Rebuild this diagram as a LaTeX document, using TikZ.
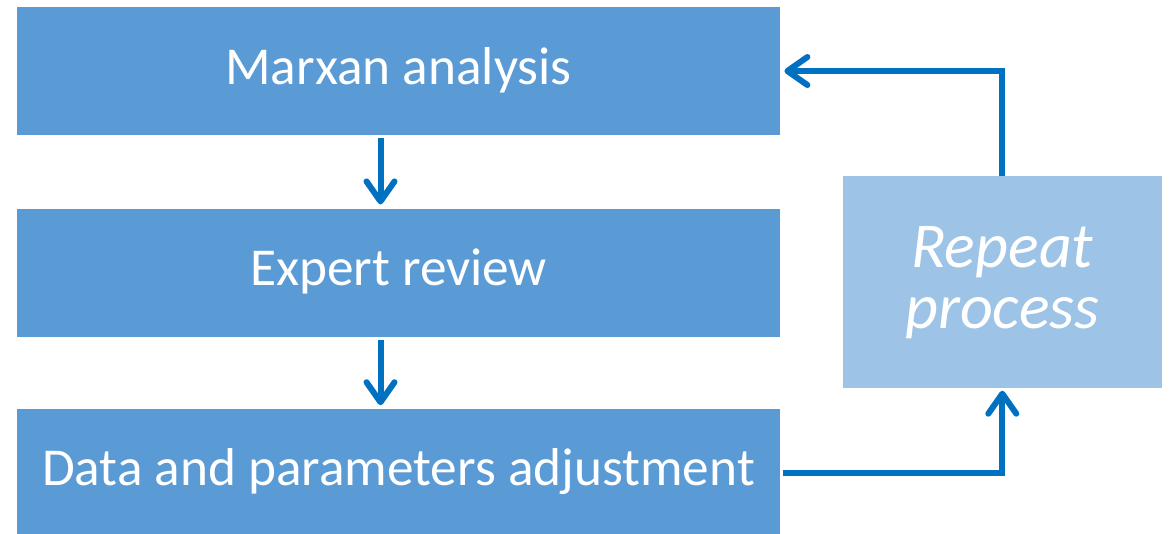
\documentclass[tikz,border=0pt]{standalone}
\usepackage{fontspec}
\setmainfont{Carlito}
\usetikzlibrary{positioning, arrows.meta}

\definecolor{stepblue}{HTML}{5B9BD5}
\definecolor{repeatblue}{HTML}{9DC3E6}
\definecolor{arrowblue}{HTML}{0070C0}

\begin{document}
\begin{tikzpicture}[node distance={72pt}, thick]
                \tikzstyle{stepbox} = [rectangle, fill=stepblue, text=white, minimum width=763pt, minimum height=128pt, inner sep=0pt, font=\fontsize{53.3}{62}\selectfont, text height=36pt, text depth=10pt]
                \tikzstyle{loopbox} = [rectangle, fill=repeatblue, text=white, minimum width=319pt, minimum height=212pt, inner sep=0pt, font=\fontsize{64}{61}\selectfont\itshape, align=center]
                \tikzstyle{flow} = [arrowblue, line width=6pt, -{Straight Barb[length=20pt, width=28pt, round]}]

                \useasboundingbox (0pt,0pt) rectangle (1170pt,-533pt);

                % Main steps (left column)
                \node[stepbox] (marxan) at (398.5pt,-71pt) {Marxan analysis};
                \node[stepbox] (expert) [below=73pt of marxan] {Expert review};
                \node[stepbox] (data) [below=71pt of expert] {Data and parameters adjustment};

                % Loop box (right)
                \node[loopbox] (repeat) [right=62pt of expert, yshift=-9.5pt] {\raisebox{-2pt}{Repeat}\\\raisebox{-2pt}{process}};

                \draw[flow, shorten <=3pt, shorten >=4pt] ([xshift=-18pt]marxan.south) -- ([xshift=-18pt]expert.north);
                \draw[flow, shorten <=3pt, shorten >=3pt] ([xshift=-18pt]expert.south) -- ([xshift=-18pt]data.north);
                \draw[flow, shorten <=3pt, shorten >=2pt] (data.east) -| (repeat.south);
                \draw[flow, shorten >=4pt] (repeat.north) |- (marxan.east);
            \end{tikzpicture}
\end{document}
